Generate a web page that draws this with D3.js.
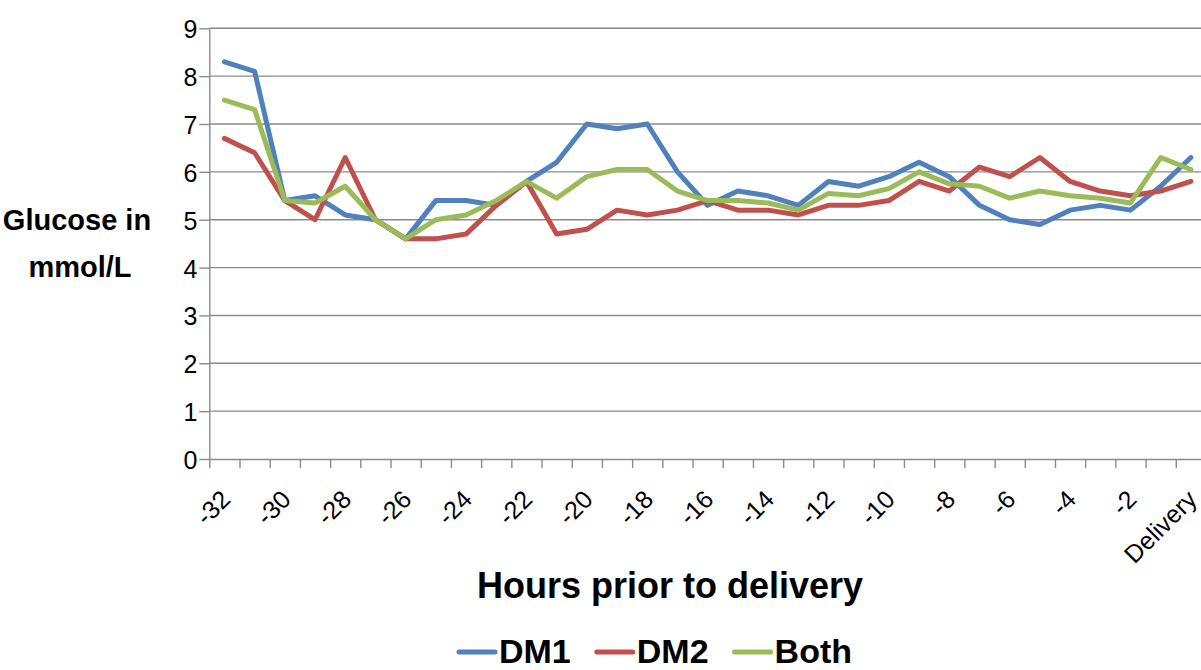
<!DOCTYPE html>
<html>
<head>
<meta charset="utf-8">
<script src="https://cdn.jsdelivr.net/npm/d3@7"></script>
<style>
  body { margin: 0; background: #fff; }
  svg { display: block; font-family: "Liberation Sans", Arial, sans-serif; }
</style>
</head>
<body>
<svg id="chart"></svg>
<script>
// hours before delivery, -32 .. -1, then "Delivery"
var hours = ["-32","-31","-30","-29","-28","-27","-26","-25","-24","-23","-22","-21","-20","-19","-18","-17",
             "-16","-15","-14","-13","-12","-11","-10","-9","-8","-7","-6","-5","-4","-3","-2","-1","Delivery"];

var dm1  = [8.3,8.1,5.4,5.5,5.1,5.0,4.6,5.4,5.4,5.3,5.8,6.2,7.0,6.9,7.0,6.0,
            5.3,5.6,5.5,5.3,5.8,5.7,5.9,6.2,5.9,5.3,5.0,4.9,5.2,5.3,5.2,5.7,6.3];
var dm2  = [6.7,6.4,5.4,5.0,6.3,5.0,4.6,4.6,4.7,5.3,5.8,4.7,4.8,5.2,5.1,5.2,
            5.4,5.2,5.2,5.1,5.3,5.3,5.4,5.8,5.6,6.1,5.9,6.3,5.8,5.6,5.5,5.6,5.8];
var both = [7.5,7.3,5.4,5.35,5.7,5.0,4.6,5.0,5.1,5.4,5.8,5.45,5.9,6.05,6.05,5.6,
            5.4,5.4,5.35,5.2,5.55,5.5,5.65,6.0,5.75,5.7,5.45,5.6,5.5,5.45,5.35,6.3,6.05];

var seriesNames = ["DM1", "DM2", "Both"];
var seriesColors = ["#4F81BD", "#C0504D", "#9BBB59"];
var yTicks = [0,1,2,3,4,5,6,7,8,9];

var chartW = 1201, chartH = 670;
var plotLeft = 209.3, plotRight = 1206, plotTop = 28.3, plotBottom = 459;
var gridColor = "#8a8a8a";

var svg = d3.select("#chart")
    .attr("width", chartW)
    .attr("height", chartH);

var x = d3.scaleBand()
    .domain(hours)
    .range([plotLeft, plotRight])
    .padding(0);

// category edges, for the tick marks between categories
var xEdge = d3.scaleLinear()
    .domain([0, hours.length])
    .range([plotLeft, plotRight]);

var y = d3.scaleLinear()
    .domain([0, 9])
    .range([plotBottom, plotTop]);

// horizontal gridlines
svg.append("g")
  .selectAll("line")
  .data(yTicks.filter(function(d) { return d > 0; }))
  .enter()
  .append("line")
    .attr("x1", plotLeft)
    .attr("x2", plotRight)
    .attr("y1", function(d) { return y(d); })
    .attr("y2", function(d) { return y(d); })
    .attr("stroke", gridColor)
    .attr("stroke-width", 1.4);

// y axis
var yAxis = svg.append("g")
    .attr("transform", "translate(" + plotLeft + ",0)")
    .call(d3.axisLeft(y).tickValues(yTicks).tickSize(10).tickPadding(2).tickSizeOuter(0));
yAxis.select(".domain").attr("stroke", gridColor).attr("stroke-width", 1.4);
yAxis.selectAll(".tick line").attr("stroke", gridColor).attr("stroke-width", 1.4);
yAxis.selectAll(".tick text")
    .attr("font-size", 25)
    .attr("font-family", "Liberation Sans, Arial, sans-serif")
    .attr("fill", "#000")
    .attr("dy", "0.38em");

// x axis (ticks on category boundaries)
var xAxis = svg.append("g")
    .attr("transform", "translate(0," + plotBottom + ")")
    .call(d3.axisBottom(xEdge).tickValues(d3.range(0, hours.length)).tickSize(9).tickFormat("").tickSizeOuter(0));
xAxis.select(".domain").attr("stroke", gridColor).attr("stroke-width", 1.4);
xAxis.selectAll(".tick line").attr("stroke", gridColor).attr("stroke-width", 1.4);

// rotated category labels, every second one
svg.append("g")
  .selectAll("text")
  .data(hours.filter(function(d, i) { return i % 2 === 0; }))
  .enter()
  .append("text")
    .attr("transform", function(d) {
      return "translate(" + (x(d) + x.bandwidth() / 2 + 7.5) + ",501) rotate(-45)";
    })
    .attr("text-anchor", "end")
    .attr("font-size", 25)
    .attr("fill", "#000")
    .text(function(d) { return d; });

// lines
var line = d3.line()
    .x(function(d, i) { return x(hours[i]) + x.bandwidth() / 2; })
    .y(function(d) { return y(d); });

[dm1, dm2, both].forEach(function(values, k) {
  svg.append("path")
    .datum(values)
    .attr("fill", "none")
    .attr("stroke", seriesColors[k])
    .attr("stroke-width", 5)
    .attr("stroke-linejoin", "round")
    .attr("stroke-linecap", "round")
    .attr("d", line);
});

// y axis title
var yTitle = svg.append("text")
    .attr("text-anchor", "middle")
    .attr("font-size", 29)
    .attr("font-weight", "bold")
    .attr("fill", "#000");
yTitle.append("tspan").attr("x", 77).attr("y", 230).text("Glucose in");
yTitle.append("tspan").attr("x", 80).attr("y", 277).text("mmol/L");

// x axis title
svg.append("text")
    .attr("x", 670)
    .attr("y", 598)
    .attr("text-anchor", "middle")
    .attr("font-size", 36)
    .attr("font-weight", "bold")
    .attr("fill", "#000")
    .text("Hours prior to delivery");

// legend
var legend = svg.append("g");
var lx = 0;
seriesNames.forEach(function(name, k) {
  var item = legend.append("g").attr("transform", "translate(" + lx + ",0)");
  item.append("line")
    .attr("x1", 0).attr("x2", 36)
    .attr("y1", 0).attr("y2", 0)
    .attr("stroke", seriesColors[k])
    .attr("stroke-width", 5)
    .attr("stroke-linecap", "round");
  var t = item.append("text")
    .attr("x", 40)
    .attr("y", 11)
    .attr("font-size", 34)
    .attr("font-weight", "bold")
    .attr("fill", "#000")
    .text(name);
  lx += 40 + t.node().getComputedTextLength() + 26;
});
var legendWidth = lx - 26;
legend.attr("transform", "translate(" + (655.5 - legendWidth / 2) + ",652)");
</script>
</body>
</html>
